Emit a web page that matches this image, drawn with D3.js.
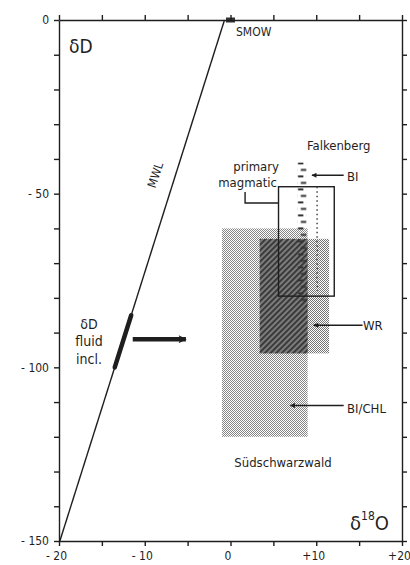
<!DOCTYPE html>
<html>
<head>
<meta charset="utf-8">
<script src="https://cdn.jsdelivr.net/npm/d3@7"></script>
<style>
  body { margin: 0; background: #fff; }
  text { font-family: "DejaVu Sans Condensed", "Liberation Sans Narrow", "DejaVu Sans", sans-serif; font-stretch: condensed; fill: #1e1e1e; }
  .tick text { font-size: 12px; }
</style>
</head>
<body>
<div id="chart"></div>
<script>
// axis ticks
const xTicks = [-20, -15, -10, -5, 0, 5, 10, 15, 20];
const xLabels = ["- 20", "", "- 10", "", "0", "", "+10", "", "+20"];
const yTicks = [0, -10, -20, -30, -40, -50, -60, -70, -80, -90, -100, -110, -120, -130, -140, -150];
const yLabels = ["0", "", "", "", "", "- 50", "", "", "", "", "- 100", "", "", "", "", "- 150"];

// meteoric water line (d18O, dD) end points
const mwlD18O = [-19.9, -0.7];
const mwlDD = [-150, 0];
// dD of fluid inclusions, along the MWL
const fluidDD = [-85, -100];
// SMOW
const smow = [0, 0];

// fields: d18O range, dD range
const biChlD18O = [-1, 9];
const biChlDD = [-120, -60];
const wrD18O = [3.4, 11.5];
const wrDD = [-96, -63];
const magmaticD18O = [5.6, 12.1];
const magmaticDD = [-79.5, -48];
const falkBiD18O = [7.8, 8.9];
const falkBiDD = [-82, -41];
const falkDotD18O = 10.1;
const falkDotDD = [-78, -48];

const width = 410, height = 565;
const margin = { top: 20, right: 8, bottom: 24, left: 59 };

const svg = d3.select("#chart").append("svg")
  .attr("width", width)
  .attr("height", height)
  .attr("viewBox", [0, 0, width, height]);

const x = d3.scaleLinear().domain([-20, 20]).range([margin.left, width - margin.right]);
const y = d3.scaleLinear().domain([-150, 0]).range([height - margin.bottom, margin.top]);

const defs = svg.append("defs");

// stipple patterns
function stipple(id, color) {
  const p = defs.append("pattern").attr("id", id)
    .attr("patternUnits", "userSpaceOnUse").attr("width", 2).attr("height", 2);
  p.append("rect").attr("x", 0).attr("y", 0).attr("width", 1).attr("height", 1).attr("fill", color);
  p.append("rect").attr("x", 1).attr("y", 1).attr("width", 1).attr("height", 1).attr("fill", color);
}
stipple("dotLight", "#858585");
stipple("dotMid", "#747474");

const hatch = defs.append("pattern").attr("id", "hatch")
  .attr("patternUnits", "userSpaceOnUse").attr("width", 4).attr("height", 4)
  .attr("patternTransform", "rotate(45)");
hatch.append("rect").attr("width", 4).attr("height", 4).attr("fill", "#7c7c7c");
hatch.append("rect").attr("width", 1.8).attr("height", 4).attr("fill", "#333");

const dashW = x(falkBiD18O[1]) - x(falkBiD18O[0]);
const dash = defs.append("pattern").attr("id", "dashes")
  .attr("patternUnits", "userSpaceOnUse")
  .attr("x", x(falkBiD18O[0])).attr("y", y(falkBiDD[1]))
  .attr("width", dashW).attr("height", 13);
dash.append("rect").attr("x", 0.5).attr("y", 0).attr("width", 5.5).attr("height", 2).attr("fill", "#333");
dash.append("rect").attr("x", dashW - 6).attr("y", 6.5).attr("width", 5.5).attr("height", 2).attr("fill", "#333");

function box(d18, dd) {
  return { x: x(d18[0]), y: y(dd[1]), w: x(d18[1]) - x(d18[0]), h: y(dd[0]) - y(dd[1]) };
}

// Südschwarzwald BI/CHL field
const b1 = box(biChlD18O, biChlDD);
svg.append("rect").attr("x", b1.x).attr("y", b1.y).attr("width", b1.w).attr("height", b1.h)
  .attr("fill", "url(#dotLight)");

// WR field
const b2 = box(wrD18O, wrDD);
svg.append("rect").attr("x", b2.x).attr("y", b2.y).attr("width", b2.w).attr("height", b2.h)
  .attr("fill", "url(#dotMid)");

// overlap of both fields
const ovD18O = [Math.max(biChlD18O[0], wrD18O[0]), Math.min(biChlD18O[1], wrD18O[1])];
const ovDD = [Math.max(biChlDD[0], wrDD[0]), Math.min(biChlDD[1], wrDD[1])];
const b3 = box(ovD18O, ovDD);
svg.append("rect").attr("x", b3.x).attr("y", b3.y).attr("width", b3.w).attr("height", b3.h)
  .attr("fill", "url(#hatch)");

// primary magmatic box
const b4 = box(magmaticD18O, magmaticDD);
svg.append("rect").attr("x", b4.x).attr("y", b4.y).attr("width", b4.w).attr("height", b4.h)
  .attr("fill", "none").attr("stroke", "#1e1e1e").attr("stroke-width", 1.4);

// Falkenberg BI dashes
const b5 = box(falkBiD18O, falkBiDD);
svg.append("rect").attr("x", b5.x).attr("y", b5.y).attr("width", b5.w).attr("height", b5.h)
  .attr("fill", "url(#dashes)");

svg.append("line")
  .attr("x1", x(falkDotD18O)).attr("x2", x(falkDotD18O))
  .attr("y1", y(falkDotDD[1])).attr("y2", y(falkDotDD[0]))
  .attr("stroke", "#444").attr("stroke-width", 1.5).attr("stroke-dasharray", "1.5,3");

// MWL
const mwl = d3.zip(mwlD18O, mwlDD);
svg.append("path").datum(mwl)
  .attr("fill", "none").attr("stroke", "#1e1e1e").attr("stroke-width", 1.4)
  .attr("d", d3.line().x(d => x(d[0])).y(d => y(d[1])));

const onMwl = d3.scaleLinear().domain(mwlDD).range(mwlD18O);
svg.append("line")
  .attr("x1", x(onMwl(fluidDD[0]))).attr("y1", y(fluidDD[0]))
  .attr("x2", x(onMwl(fluidDD[1]))).attr("y2", y(fluidDD[1]))
  .attr("stroke", "#1e1e1e").attr("stroke-width", 4.5).attr("stroke-linecap", "round");

svg.append("rect")
  .attr("x", x(smow[0]) - 4.5).attr("y", y(smow[1]) - 2.5)
  .attr("width", 9).attr("height", 5).attr("fill", "#333");

// arrows
defs.append("marker").attr("id", "head")
  .attr("viewBox", "0 0 10 10").attr("refX", 9).attr("refY", 5)
  .attr("markerUnits", "userSpaceOnUse").attr("markerWidth", 8).attr("markerHeight", 5)
  .attr("orient", "auto")
  .append("path").attr("d", "M0,0L10,5L0,10Z").attr("fill", "#1e1e1e");
defs.append("marker").attr("id", "bighead")
  .attr("viewBox", "0 0 10 10").attr("refX", 9).attr("refY", 5)
  .attr("markerUnits", "userSpaceOnUse").attr("markerWidth", 11).attr("markerHeight", 8)
  .attr("orient", "auto")
  .append("path").attr("d", "M0,0L10,5L0,10L2,5Z").attr("fill", "#1e1e1e");

function arrow(x0, x1, dd, big) {
  svg.append("line")
    .attr("x1", x(x0)).attr("x2", x(x1)).attr("y1", y(dd)).attr("y2", y(dd))
    .attr("stroke", "#1e1e1e").attr("stroke-width", big ? 4.5 : 1.4)
    .attr("marker-end", big ? "url(#bighead)" : "url(#head)");
}
arrow(13.2, 9.5, -44.7);
arrow(15.4, 9.7, -87.9);
arrow(13.2, 7.0, -111);
arrow(-11.4, -5.2, -91.9, true);

// leader from "primary magmatic"
svg.append("path")
  .attr("d", `M${x(1.7)},${y(-49.5)}V${y(-52.7)}H${x(magmaticD18O[0])}`)
  .attr("fill", "none").attr("stroke", "#1e1e1e").attr("stroke-width", 1.4);

// axes
function fmtX(d) { return xLabels[xTicks.indexOf(d)]; }
function fmtY(d) { return yLabels[yTicks.indexOf(d)]; }

svg.append("g").attr("transform", `translate(0,${y(-150)})`)
  .call(d3.axisBottom(x).tickValues(xTicks).tickFormat(fmtX).tickSize(5).tickSizeOuter(0))
  .call(g => g.selectAll("text").attr("dx", -3).attr("dy", "0.9em"));
svg.append("g").attr("transform", `translate(0,${y(0)})`)
  .call(d3.axisTop(x).tickValues(xTicks).tickFormat("").tickSize(5).tickSizeOuter(0));
svg.append("g").attr("transform", `translate(${x(-20)},0)`)
  .call(d3.axisLeft(y).tickValues(yTicks).tickFormat(fmtY).tickSize(5).tickSizeOuter(0))
  .call(g => g.selectAll("text").attr("dx", -2));
svg.append("g").attr("transform", `translate(${x(20)},0)`)
  .call(d3.axisRight(y).tickValues(yTicks).tickFormat("").tickSize(5).tickSizeOuter(0));
svg.selectAll(".domain, .tick line").attr("stroke", "#1e1e1e").attr("stroke-width", 1.4);

// labels
function label(px, py, str, size, anchor) {
  return svg.append("text").attr("x", px).attr("y", py)
    .attr("font-size", size).attr("text-anchor", anchor || "start").text(str);
}
label(69, 53, "δD", 19);
label(236, 36, "SMOW", 12);
label(307, 150, "Falkenberg", 13);
label(279, 171, "primary", 13, "end");
label(277, 187, "magmatic", 13, "end");
label(347, 181, "BI", 13);
label(363, 330, "WR", 13);
label(347, 413, "BI/CHL", 13);
label(283, 467, "Südschwarzwald", 13, "middle");
label(89, 329, "δD", 14, "middle");
label(89, 346, "fluid", 14, "middle");
label(89, 364, "incl.", 14, "middle");

const d18 = label(350, 530, "δ", 20);
d18.append("tspan").attr("font-size", 12).attr("dy", -10).text("18");
d18.append("tspan").attr("font-size", 20).attr("dy", 10).text("O");

svg.append("text")
  .attr("transform", `translate(${x(-8.3)},${y(-45)}) rotate(-72)`)
  .attr("text-anchor", "middle").attr("font-size", 12).text("MWL");
</script>
</body>
</html>
